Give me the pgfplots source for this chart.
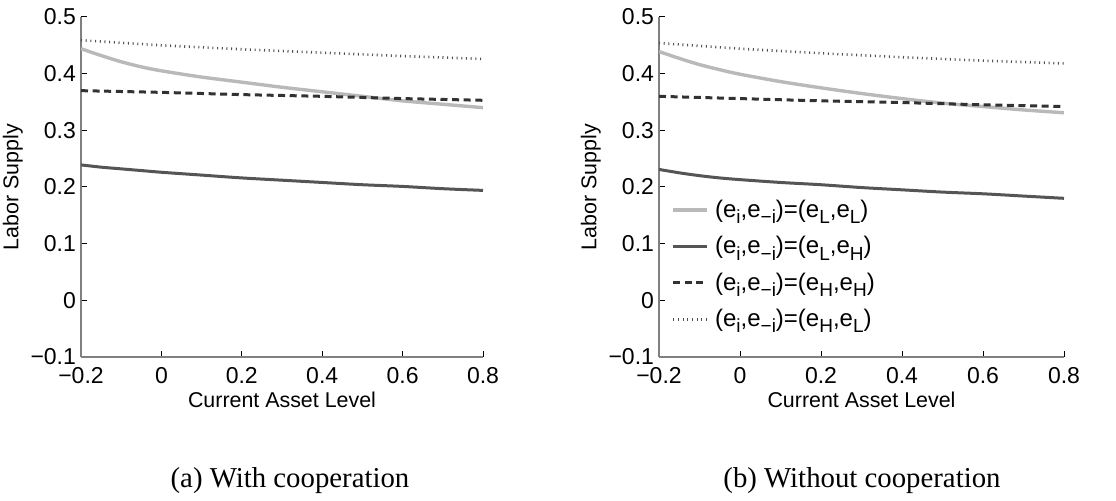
\documentclass[border=0pt]{standalone}
\usepackage{pgfplots}
\pgfplotsset{compat=1.18}
\usepackage{fontspec}
\setmainfont{Liberation Sans}
\newfontfamily\capfont{Liberation Serif}
\definecolor{lgray}{RGB}{185,185,185}
\definecolor{dgray}{RGB}{85,85,85}
\definecolor{dashc}{RGB}{50,50,50}
\definecolor{dotc}{RGB}{80,80,80}
\newcommand{\sub}[1]{\raisebox{-0.5ex}{\fontsize{9.5}{10}\selectfont #1}}
\newcommand{\ent}[2]{(e\sub{i},e\sub{−i})=(e\sub{#1},e\sub{#2})}
\pgfplotsset{ls/.style={scale only axis, width=201pt, height=170pt,
  xmin=-0.2, xmax=0.8, ymin=-0.1, ymax=0.5,
  axis x line=bottom, axis y line=left, axis line style={-, draw=black!50, line width=0.8pt},
  tick align=inside, major tick length=3pt, tick style={black, line width=0.5pt},
  xtick={-0.2,0,0.2,0.4,0.6,0.8}, xticklabels={−0.2,0,0.2,0.4,0.6,0.8},
  ytick={-0.1,0,0.1,0.2,0.3,0.4,0.5}, yticklabels={−0.1,0,0.1,0.2,0.3,0.4,0.5},
  tick label style={font=\fontsize{11.5}{12}\selectfont},
  label style={font=\fontsize{10.7}{12}\selectfont},
  xlabel={Current Asset Level}, ylabel={Labor Supply},
  xlabel style={yshift=2.5pt}, ylabel style={yshift=-3pt},
  xticklabel style={yshift=-1.5pt}, yticklabel style={xshift=1pt}},
  sLL/.style={lgray, line width=1.7pt},
  sLH/.style={dgray, line width=1.5pt},
  sHH/.style={dashc, line width=1.5pt, dash pattern=on 3.5pt off 2.3pt},
  sHL/.style={dotc, line width=1.3pt, dash pattern=on 0.5pt off 1.85pt}}
\begin{document}
\begin{tikzpicture}
\path[use as bounding box] (0,0) rectangle (558pt,250.5pt);
\begin{axis}[ls, at={(40.5pt,72pt)}, anchor=south west]
\addplot[sHL] coordinates {(-0.2,0.459) (0,0.450) (0.2,0.443) (0.4,0.437) (0.6,0.431) (0.8,0.426)};
\addplot[sLL, smooth] coordinates {(-0.2,0.444) (-0.15,0.432) (-0.1,0.421) (-0.05,0.412) (0,0.405)
  (0.1,0.394) (0.2,0.385) (0.3,0.376) (0.4,0.368) (0.5,0.360) (0.6,0.352) (0.7,0.346) (0.8,0.340)};
\addplot[sHH] coordinates {(-0.2,0.370) (0,0.367) (0.2,0.363) (0.4,0.360) (0.6,0.356) (0.8,0.353)};
\addplot[sLH, smooth] coordinates {(-0.2,0.239) (-0.15,0.235) (-0.1,0.232) (-0.05,0.229) (0,0.226)
  (0.1,0.221) (0.2,0.216) (0.3,0.212) (0.4,0.208) (0.5,0.204) (0.6,0.201) (0.7,0.197) (0.8,0.194)};
\end{axis}
\begin{axis}[ls, at={(329.5pt,72pt)}, anchor=south west, width=202.5pt,
  legend style={draw=none, fill=none, at={(0.03,0.475)}, anchor=north west,
  font=\fontsize{12}{13}\selectfont, row sep=4pt, inner sep=0pt},
  legend cell align=left, legend image code/.code={\draw[#1] (0cm,0cm) -- (0.6cm,0cm);},
  legend style={/tikz/every odd column/.append style={column sep=1pt}}]
\addplot[sHL, forget plot] coordinates {(-0.2,0.454) (0,0.444) (0.2,0.436) (0.4,0.429) (0.6,0.423) (0.8,0.418)};
\addplot[sLL, smooth] coordinates {(-0.2,0.439) (-0.15,0.427) (-0.1,0.416) (-0.05,0.407) (0,0.399)
  (0.1,0.386) (0.2,0.375) (0.3,0.365) (0.4,0.356) (0.5,0.348) (0.6,0.342) (0.7,0.336) (0.8,0.331)};
\addlegendentry{\ent{L}{L}}
\addplot[sLH, smooth] coordinates {(-0.2,0.231) (-0.15,0.225) (-0.1,0.220) (-0.05,0.216) (0,0.213)
  (0.1,0.208) (0.2,0.204) (0.3,0.199) (0.4,0.195) (0.5,0.191) (0.6,0.188) (0.7,0.184) (0.8,0.180)};
\addlegendentry{\ent{L}{H}}
\addplot[sHH] coordinates {(-0.2,0.360) (0,0.356) (0.2,0.352) (0.4,0.349) (0.6,0.345) (0.8,0.342)};
\addlegendentry{\ent{H}{H}}
\addlegendimage{sHL}
\addlegendentry{\ent{H}{L}}
\end{axis}
\node[font=\capfont\fontsize{14.4}{16}\selectfont] at (145pt,10pt) {(a) With cooperation};
\node[font=\capfont\fontsize{14.4}{16}\selectfont] at (431pt,10pt) {(b) Without cooperation};
\end{tikzpicture}
\end{document}
